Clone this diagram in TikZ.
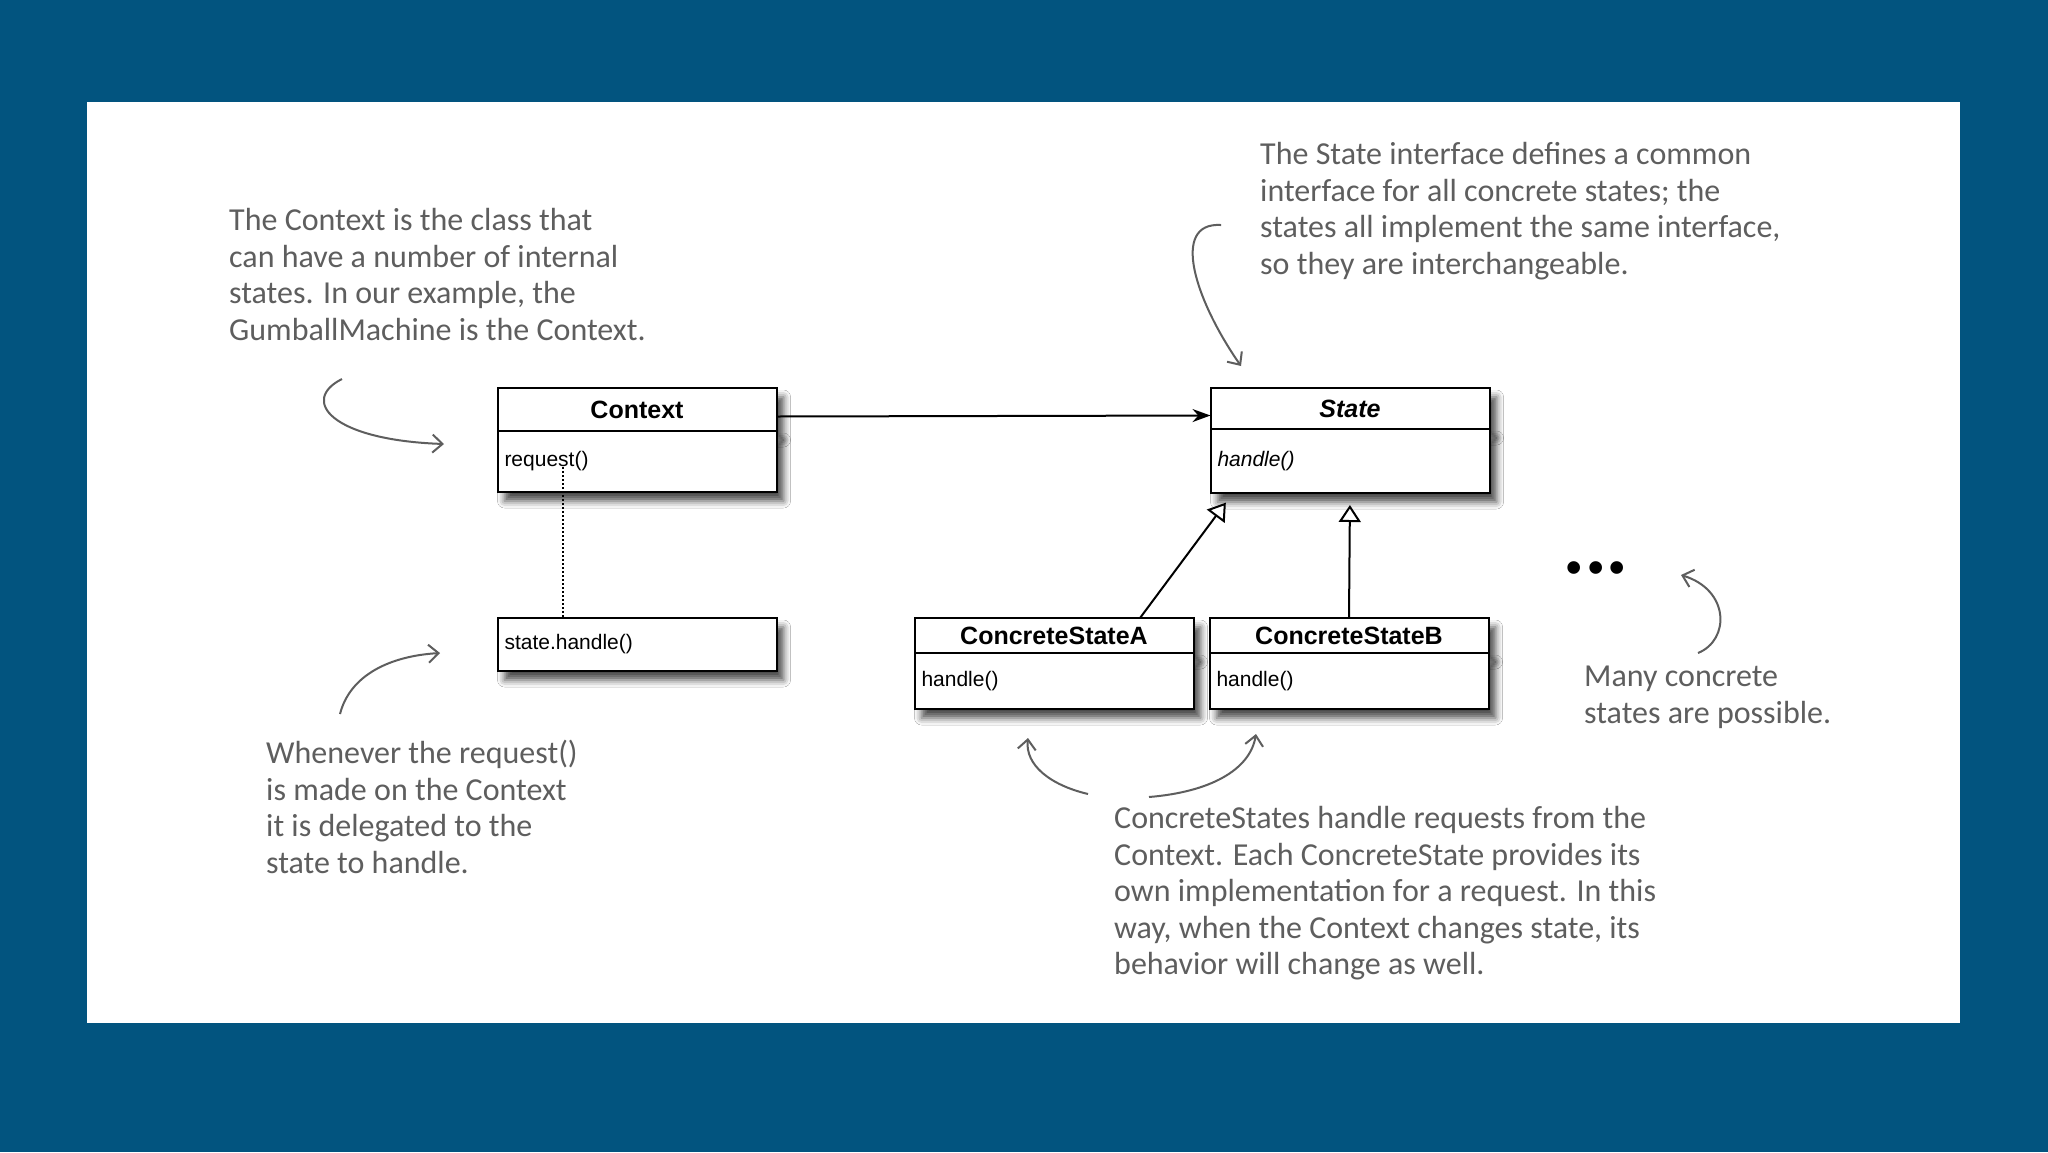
\documentclass[tikz,border=0pt]{standalone}
\usepackage{fontspec}
\setmainfont{Liberation Sans}
\newfontfamily\handfont{Carlito}
\usetikzlibrary{positioning,arrows.meta,shadows.blur}
\definecolor{slideblue}{HTML}{02547F}
\definecolor{inkgray}{HTML}{5E5E5E}
\begin{document}
\begin{tikzpicture}[x=1pt,y=-1pt]
    \tikzset{
        boxshadow/.style = {blur shadow={shadow xshift=7pt, shadow yshift=-9pt, shadow blur radius=7pt, shadow opacity=70}},
        umltitle/.style = {rectangle, draw=black, fill=white, line width=2pt, outer sep=0pt, inner sep=0pt, minimum width=279pt, font=\fontsize{25}{28}\selectfont\bfseries, boxshadow},
        umlbody/.style = {rectangle, draw=black, fill=white, line width=2pt, outer sep=0pt, inner xsep=7pt, inner ysep=0pt, text width=265pt, align=left, font=\fontsize{21}{24}\selectfont, boxshadow},
        note/.style = {anchor=north west, align=left, inner sep=0pt, text=inkgray, font=\handfont\fontsize{32}{36.6}\selectfont},
        scribble/.style = {inkgray, line width=2pt, -{Straight Barb[length=10pt,width=18pt]}},
        arrow/.style = {line width=2pt, -{Stealth[length=18pt,width=13pt]}},
        inherit/.style = {line width=2pt, -{Triangle[open,fill=white,length=17pt,width=22pt]}, shorten >=12pt}
    }
    % slide and page
    \fill [slideblue] (0,0) rectangle (2048,1152);
    \fill [white] (87,102) rectangle (1960,1023);

    \node (ctx) [umltitle, minimum height=43pt] at (637,409.5) {Context};
    \node (ctxbody) [umlbody, minimum height=61pt, below=0pt of ctx] {request()};
    \node (handle) [umlbody, minimum height=53pt] at (637,644.5) {state.handle()};

    \node (state) [umltitle, minimum height=41pt, font=\fontsize{25}{28}\selectfont\bfseries\itshape] at (1350,408.5) {State};
    \node (statebody) [umlbody, minimum height=64pt, below=0pt of state, font=\fontsize{21}{24}\selectfont\itshape] {handle()};

    \node (csa) [umltitle, minimum height=35pt] at (1054,635.5) {ConcreteStateA};
    \node (csabody) [umlbody, minimum height=56pt, below=0pt of csa] {handle()};
    \node (csb) [umltitle, minimum height=35pt, right=16pt of csa] {ConcreteStateB};
    \node (csbbody) [umlbody, minimum height=56pt, below=0pt of csb] {handle()};

    \node (more) [font=\fontsize{44}{44}\selectfont\bfseries] at (1596,572) {\textbullet\hspace{6pt}\textbullet\hspace{6pt}\textbullet};

    \draw [arrow] ([yshift=-7pt]ctx.east) -- ([yshift=-7pt]state.west);
    \draw [inherit] ([xshift=86pt]csa.north) -- ([xshift=-117pt]statebody.south);
    \draw [inherit] (csb.north) -- (statebody.south);
    \draw [line width=2pt, dotted] ([xshift=-74pt,yshift=25pt]ctxbody.south) -- ([xshift=-74pt]handle.north);

    % hand written notes
    \node (ctxnote) [note] at (229,208) {The Context is the class that\\can have a number of internal\\states. In our example, the\\GumballMachine is the Context.};
    \node (statenote) [note] at (1260,142) {The State interface defines a common\\interface for all concrete states; the\\states all implement the same interface,\\so they are interchangeable.};
    \node (delegnote) [note] at (266,740) {Whenever the request()\\is made on the Context\\it is delegated to the\\state to handle.};
    \node (manynote) [note] at (1584,666) {Many concrete\\states are possible.};
    \node (csnote) [note] at (1114,806) {ConcreteStates handle requests from the\\Context. Each ConcreteState provides its\\own implementation for a request. In this\\way, when the Context changes state, its\\behavior will change as well.};

    \coordinate (c1s) at (342,379);
    \coordinate (c1e) at (444,444);
    \coordinate (c2s) at (1221,225);
    \coordinate (c2e) at (1241,366);
    \coordinate (c3s) at (340,714);
    \coordinate (c3e) at (440,653);
    \coordinate (c4s) at (1698,653);
    \coordinate (c4e) at (1681,575);
    \coordinate (c5s) at (1088,794);
    \coordinate (c5e) at (1028,738);
    \coordinate (c6s) at (1149,797);
    \coordinate (c6e) at (1256,734);
    \draw [scribble] (c1s) .. controls (300,400) and (330,440) .. (c1e);
    \draw [scribble] (c2s) .. controls (1170,222) and (1195,300) .. (c2e);
    \draw [scribble] (c3s) .. controls (350,675) and (390,656) .. (c3e);
    \draw [scribble] (c4s) .. controls (1730,640) and (1730,590) .. (c4e);
    \draw [scribble] (c5s) .. controls (1050,785) and (1025,765) .. (c5e);
    \draw [scribble] (c6s) .. controls (1210,792) and (1250,770) .. (c6e);

\end{tikzpicture}
\end{document}
